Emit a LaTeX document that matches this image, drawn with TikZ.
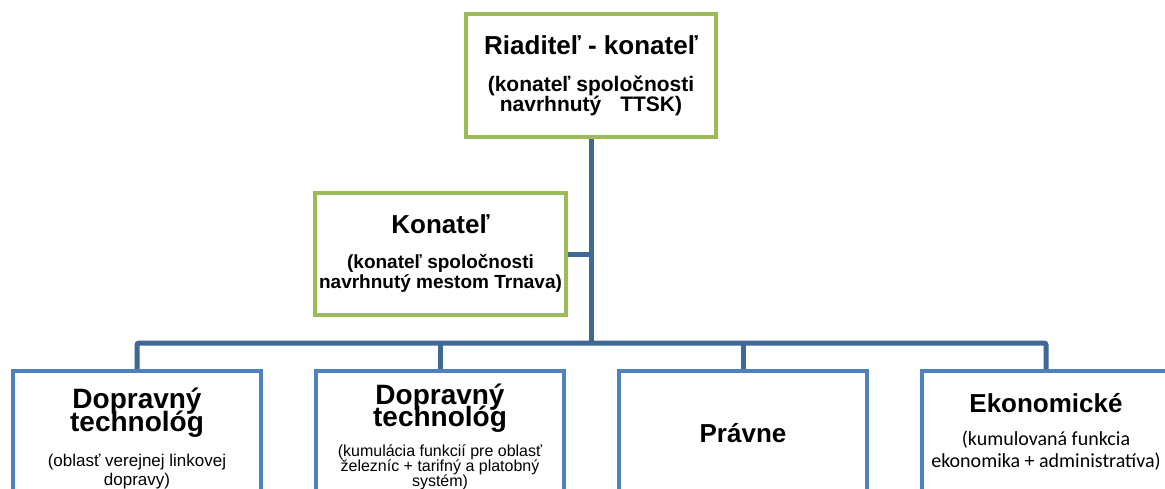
\documentclass[tikz,border=0pt]{standalone}
\usepackage{fontspec}
\setmainfont{Liberation Sans}
\newfontfamily\calibrifont{Carlito}
\usetikzlibrary{positioning}
\definecolor{boxGreen}{HTML}{9BBB59}
\definecolor{boxBlue}{HTML}{4F81BD}
\definecolor{linkBlue}{HTML}{3F6896}
\newcommand{\fsz}[2]{\fontsize{#1}{#2}\selectfont}
\newcommand{\tightlines}{\lineskiplimit=-99pt\lineskip=0pt}

\begin{document}
\begin{tikzpicture}[
  x=1pt, y=-1pt,
  head/.style={draw=boxGreen, line width=4pt, fill=white, align=center,
               inner sep=0pt},
  unit/.style={draw=boxBlue, line width=4pt, fill=white, align=center,
               inner sep=0pt, minimum width=248, anchor=north},
  link/.style={draw=linkBlue, line width=5pt},
]
  \clip (0,0) rectangle (1165,488);

  \node[head, minimum width=250, minimum height=123,
        font=\fsz{21}{20}\bfseries\tightlines] (ria) at (591,75.5)
    {{\fsz{26}{26}Riaditeľ - konateľ}\\[17pt]
     (konateľ spoločnosti\\
     navrhnutý\hspace{0.9em}TTSK)};
  \node[head, minimum width=251, minimum height=122,
        font=\fsz{19}{20}\bfseries\tightlines] (kon) at (440.5,254)
    {{\fsz{26}{26}Konateľ}\\[15pt]
     (konateľ spoločnosti\\
     navrhnutý mestom Trnava)};

  % bottom row
  \node[unit, minimum height=134, font=\fsz{17}{19}\tightlines] (dop1) at (137,369)
    {{\fsz{28}{28}\bfseries Dopravný}\\[4pt]
     {\fsz{28}{28}\bfseries technológ}\\[16pt]
     (oblasť verejnej linkovej\\
     dopravy)};
  \node[unit, minimum height=131, font=\fsz{16}{14.7}\tightlines,
        right=51pt of dop1.north east, anchor=north west] (dop2)
    {{\fsz{28}{28}\bfseries Dopravný}\\[7.3pt]
     {\fsz{28}{28}\bfseries technológ}\\[16pt]
     (kumulácia funkcií pre oblasť\\
     železníc + tarifný a platobný\\
     systém)};
  \node[unit, minimum height=125, font=\fsz{26}{26}\bfseries,
        right=51pt of dop2.north east, anchor=north west] (prav) {Právne};
  \node[unit, minimum height=122, font=\fsz{20}{22}\calibrifont\tightlines,
        right=51pt of prav.north east, anchor=north west] (eko)
    {{\fsz{26}{26}\rmfamily\bfseries Ekonomické}\\[11pt]
     (kumulovaná funkcia\\
     ekonomika + administratíva)};

  \coordinate (hub) at (ria.south |- 0,343);
  \draw[link] (ria) -- (hub);
  \draw[link] (kon) -- (kon -| hub);
  \draw[link, rounded corners=2pt] (dop1) |- (hub) -| (eko);
  \draw[link] (dop2) -- (dop2 |- hub);
  \draw[link] (prav) -- (prav |- hub);
\end{tikzpicture}
\end{document}
